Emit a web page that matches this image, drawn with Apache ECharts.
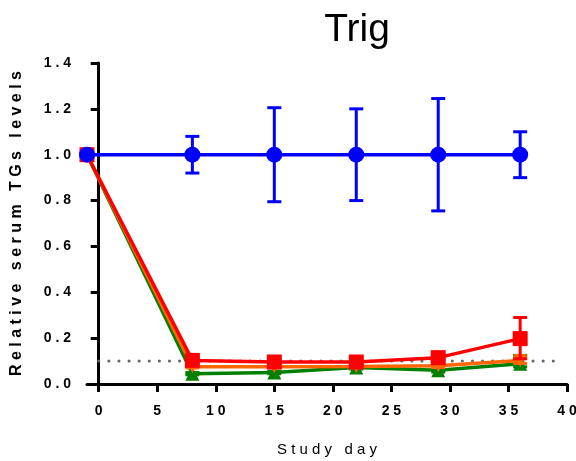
<!DOCTYPE html>
<html>
<head>
<meta charset="utf-8">
<script src="https://cdn.jsdelivr.net/npm/echarts@6/dist/echarts.min.js"></script>
<style>
  html, body { margin: 0; padding: 0; background: #fff; }
  #chart { width: 576px; height: 461px; }
</style>
</head>
<body>
<div id="chart"></div>
<script>
// study days
const days = [-1, 8, 15, 22, 29, 36]
const xTicks = [0, 5, 10, 15, 20, 25, 30, 35, 40]

// relative TG levels per group
const blue = [1.0, 1.0, 1.0, 1.0, 1.0, 1.0]
const blueLow = [1.0, 0.92, 0.795, 0.80, 0.755, 0.90]
const blueHigh = [1.0, 1.08, 1.205, 1.20, 1.245, 1.10]

const red = [1.0, 0.103, 0.096, 0.096, 0.115, 0.198]
const redLow = [1.0, 0.09, 0.085, 0.088, 0.105, 0.11]
const redHigh = [1.0, 0.115, 0.105, 0.105, 0.125, 0.29]

const orange = [1.0, 0.075, 0.075, 0.076, 0.08, 0.102]
const orangeLow = [1.0, 0.07, 0.07, 0.07, 0.072, 0.09]
const orangeHigh = [1.0, 0.08, 0.08, 0.082, 0.088, 0.118]

const green = [1.0, 0.045, 0.05, 0.072, 0.06, 0.088]
const greenLow = [1.0, 0.04, 0.045, 0.065, 0.052, 0.075]
const greenHigh = [1.0, 0.05, 0.055, 0.078, 0.066, 0.125]

const refLevel = 0.1

const chart = echarts.init(document.getElementById('chart'))

function pairs(vals) {
  return days.map((d, i) => [d, vals[i]])
}

// error bar series built from low/high arrays
function errorBars(color, low, high, z) {
  return {
    type: 'custom',
    z: z,
    silent: true,
    data: days.map((d, i) => [d, low[i], high[i]]),
    renderItem(params, api) {
      const x = api.value(0)
      const lo = api.coord([x, api.value(1)])
      const hi = api.coord([x, api.value(2)])
      const half = 7
      const style = { stroke: color, lineWidth: 3, fill: 'none' }
      return {
        type: 'group',
        children: [
          { type: 'line', shape: { x1: lo[0], y1: lo[1], x2: hi[0], y2: hi[1] }, style },
          { type: 'line', shape: { x1: hi[0] - half, y1: hi[1], x2: hi[0] + half, y2: hi[1] }, style },
          { type: 'line', shape: { x1: lo[0] - half, y1: lo[1], x2: lo[0] + half, y2: lo[1] }, style }
        ]
      }
    }
  }
}

function lineSeries(name, vals, color, symbol, size, z) {
  return {
    name,
    type: 'line',
    z: z,
    data: pairs(vals),
    symbol,
    symbolSize: size,
    lineStyle: { color, width: 3.5 },
    itemStyle: { color, opacity: 1 },
    emphasis: { disabled: true },
    animation: false
  }
}

const spaced = (s) => String(s).split('').join(' ')

const option = {
  animation: false,
  title: {
    text: 'Trig',
    left: 352,
    top: 6,
    textAlign: 'center',
    textStyle: { fontFamily: 'Liberation Sans', fontWeight: 'normal', fontSize: 39, color: '#000' }
  },
  grid: { left: 87, right: 9, top: 63, bottom: 77, outerBoundsMode: 'none', containLabel: false },
  xAxis: {
    type: 'value',
    min: -1,
    max: 40,
    name: spaced('Study') + '   ' + spaced('day'),
    nameLocation: 'middle',
    nameGap: 58,
    nameTextStyle: { fontFamily: 'Liberation Sans', fontSize: 15, color: '#000' },
    splitLine: { show: false },
    axisLine: { onZero: false, lineStyle: { color: '#000', width: 3 } },
    axisTick: { show: true, customValues: xTicks, length: 8, lineStyle: { color: '#000', width: 3 } },
    axisLabel: {
      customValues: xTicks,
      margin: 20,
      formatter: (v) => spaced(v),
      fontFamily: 'Liberation Sans',
      fontWeight: 'bold',
      fontSize: 14,
      color: '#000'
    }
  },
  yAxis: {
    type: 'value',
    min: 0,
    max: 1.4,
    interval: 0.2,
    name: 'Relative serum TGs levels'.split(' ').map(spaced).join('   '),
    nameLocation: 'middle',
    nameGap: 62,
    nameTextStyle: { fontFamily: 'Liberation Sans', fontWeight: 'bold', fontSize: 16, color: '#000' },
    splitLine: { show: false },
    axisLine: { show: true, lineStyle: { color: '#000', width: 3 } },
    axisTick: { show: true, length: 8, lineStyle: { color: '#000', width: 3 } },
    axisLabel: {
      margin: 16,
      formatter: (v) => spaced(v.toFixed(1)),
      fontFamily: 'Liberation Sans',
      fontWeight: 'bold',
      fontSize: 14,
      color: '#000'
    }
  },
  series: [
    {
      type: 'line',
      z: 1,
      silent: true,
      data: [[0, refLevel], [39.5, refLevel]],
      symbol: 'none',
      lineStyle: { color: '#666', width: 3, type: [0.1, 10], cap: 'round' }
    },
    errorBars('#008000', greenLow, greenHigh, 2),
    lineSeries('green', green, '#008000', 'triangle', 14, 3),
    errorBars('#ff6600', orangeLow, orangeHigh, 4),
    {
      ...lineSeries('orange', orange, '#ff6600', 'triangle', 13, 5),
      symbolRotate: 180
    },
    errorBars('#ff0000', redLow, redHigh, 6),
    lineSeries('red', red, '#ff0000', 'rect', 15, 7),
    errorBars('#0000ff', blueLow, blueHigh, 8),
    lineSeries('blue', blue, '#0000ff', 'circle', 16, 9)
  ]
}

chart.setOption(option)
</script>
</body>
</html>
